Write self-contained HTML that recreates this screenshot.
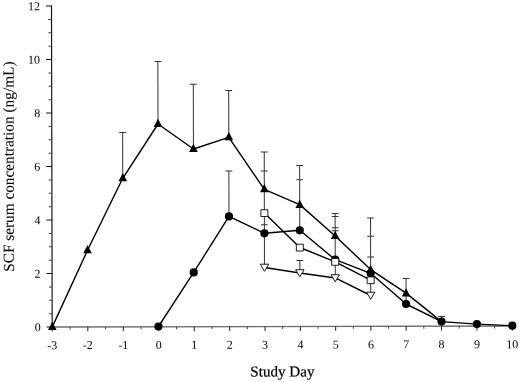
<!DOCTYPE html>
<html><head><meta charset="utf-8"><title>SCF serum concentration</title>
<style>html,body{margin:0;padding:0;background:#fff;}svg{display:block;}text{font-family:"Liberation Serif","DejaVu Serif",serif;fill:#000;}.t{stroke:#000;stroke-width:0.22px;}.t2{stroke:#000;stroke-width:0.08px;}</style></head><body>
<svg width="520" height="382" viewBox="0 0 520 382">
<rect width="520" height="382" fill="#fff"/>
<g transform="rotate(-0.1261 52.2 327.05)">
<g stroke="#111" fill="none">
<line x1="52.2" y1="5.55" x2="52.2" y2="327.65000000000003" stroke-width="1.15"/>
<line x1="52.2" y1="327.05" x2="512.80" y2="327.05" stroke-width="1.35" stroke="#6c6c6c"/>
<line x1="46.60" y1="327.05" x2="52.2" y2="327.05" stroke-width="1"/>
<line x1="49.00" y1="313.68" x2="52.2" y2="313.68" stroke-width="1" stroke="#444"/>
<line x1="49.00" y1="300.30" x2="52.2" y2="300.30" stroke-width="1" stroke="#444"/>
<line x1="49.00" y1="286.93" x2="52.2" y2="286.93" stroke-width="1" stroke="#444"/>
<line x1="46.60" y1="273.55" x2="52.2" y2="273.55" stroke-width="1"/>
<line x1="49.00" y1="260.18" x2="52.2" y2="260.18" stroke-width="1" stroke="#444"/>
<line x1="49.00" y1="246.80" x2="52.2" y2="246.80" stroke-width="1" stroke="#444"/>
<line x1="49.00" y1="233.43" x2="52.2" y2="233.43" stroke-width="1" stroke="#444"/>
<line x1="46.60" y1="220.05" x2="52.2" y2="220.05" stroke-width="1"/>
<line x1="49.00" y1="206.68" x2="52.2" y2="206.68" stroke-width="1" stroke="#444"/>
<line x1="49.00" y1="193.30" x2="52.2" y2="193.30" stroke-width="1" stroke="#444"/>
<line x1="49.00" y1="179.93" x2="52.2" y2="179.93" stroke-width="1" stroke="#444"/>
<line x1="46.60" y1="166.55" x2="52.2" y2="166.55" stroke-width="1"/>
<line x1="49.00" y1="153.18" x2="52.2" y2="153.18" stroke-width="1" stroke="#444"/>
<line x1="49.00" y1="139.80" x2="52.2" y2="139.80" stroke-width="1" stroke="#444"/>
<line x1="49.00" y1="126.43" x2="52.2" y2="126.43" stroke-width="1" stroke="#444"/>
<line x1="46.60" y1="113.05" x2="52.2" y2="113.05" stroke-width="1"/>
<line x1="49.00" y1="99.68" x2="52.2" y2="99.68" stroke-width="1" stroke="#444"/>
<line x1="49.00" y1="86.30" x2="52.2" y2="86.30" stroke-width="1" stroke="#444"/>
<line x1="49.00" y1="72.93" x2="52.2" y2="72.93" stroke-width="1" stroke="#444"/>
<line x1="46.60" y1="59.55" x2="52.2" y2="59.55" stroke-width="1"/>
<line x1="49.00" y1="46.18" x2="52.2" y2="46.18" stroke-width="1" stroke="#444"/>
<line x1="49.00" y1="32.80" x2="52.2" y2="32.80" stroke-width="1" stroke="#444"/>
<line x1="49.00" y1="19.43" x2="52.2" y2="19.43" stroke-width="1" stroke="#444"/>
<line x1="46.60" y1="6.05" x2="52.2" y2="6.05" stroke-width="1"/>
<line x1="52.30" y1="327.05" x2="52.30" y2="331.45" stroke-width="1" stroke="#222"/>
<line x1="70.06" y1="327.05" x2="70.06" y2="329.45" stroke-width="1" stroke="#444"/>
<line x1="87.82" y1="327.05" x2="87.82" y2="331.45" stroke-width="1" stroke="#222"/>
<line x1="105.58" y1="327.05" x2="105.58" y2="329.45" stroke-width="1" stroke="#444"/>
<line x1="123.33" y1="327.05" x2="123.33" y2="331.45" stroke-width="1" stroke="#222"/>
<line x1="141.08" y1="327.05" x2="141.08" y2="329.45" stroke-width="1" stroke="#444"/>
<line x1="158.82" y1="327.05" x2="158.82" y2="331.45" stroke-width="1" stroke="#222"/>
<line x1="176.55" y1="327.05" x2="176.55" y2="329.45" stroke-width="1" stroke="#444"/>
<line x1="194.27" y1="327.05" x2="194.27" y2="331.45" stroke-width="1" stroke="#222"/>
<line x1="211.98" y1="327.05" x2="211.98" y2="329.45" stroke-width="1" stroke="#444"/>
<line x1="229.67" y1="327.05" x2="229.67" y2="331.45" stroke-width="1" stroke="#222"/>
<line x1="247.36" y1="327.05" x2="247.36" y2="329.45" stroke-width="1" stroke="#444"/>
<line x1="265.04" y1="327.05" x2="265.04" y2="331.45" stroke-width="1" stroke="#222"/>
<line x1="282.70" y1="327.05" x2="282.70" y2="329.45" stroke-width="1" stroke="#444"/>
<line x1="300.36" y1="327.05" x2="300.36" y2="331.45" stroke-width="1" stroke="#222"/>
<line x1="318.01" y1="327.05" x2="318.01" y2="329.45" stroke-width="1" stroke="#444"/>
<line x1="335.64" y1="327.05" x2="335.64" y2="331.45" stroke-width="1" stroke="#222"/>
<line x1="353.28" y1="327.05" x2="353.28" y2="329.45" stroke-width="1" stroke="#444"/>
<line x1="370.90" y1="327.05" x2="370.90" y2="331.45" stroke-width="1" stroke="#222"/>
<line x1="388.53" y1="327.05" x2="388.53" y2="329.45" stroke-width="1" stroke="#444"/>
<line x1="406.15" y1="327.05" x2="406.15" y2="331.45" stroke-width="1" stroke="#222"/>
<line x1="423.84" y1="327.05" x2="423.84" y2="329.45" stroke-width="1" stroke="#444"/>
<line x1="441.53" y1="327.05" x2="441.53" y2="331.45" stroke-width="1" stroke="#222"/>
<line x1="459.23" y1="327.05" x2="459.23" y2="329.45" stroke-width="1" stroke="#444"/>
<line x1="476.92" y1="327.05" x2="476.92" y2="331.45" stroke-width="1" stroke="#222"/>
<line x1="494.61" y1="327.05" x2="494.61" y2="329.45" stroke-width="1" stroke="#444"/>
<line x1="512.30" y1="327.05" x2="512.30" y2="331.45" stroke-width="1" stroke="#222"/>
</g>
<g font-size="12px">
<text x="40.7" y="331.25" text-anchor="end">0</text>
<text x="40.7" y="277.75" text-anchor="end">2</text>
<text x="40.7" y="224.25" text-anchor="end">4</text>
<text x="40.7" y="170.75" text-anchor="end">6</text>
<text x="40.7" y="117.25" text-anchor="end">8</text>
<text x="40.7" y="63.75" text-anchor="end">10</text>
<text x="40.7" y="10.25" text-anchor="end">12</text>
<text x="52.30" y="349.15" text-anchor="middle">-3</text>
<text x="87.82" y="349.15" text-anchor="middle">-2</text>
<text x="123.33" y="349.15" text-anchor="middle">-1</text>
<text x="158.82" y="349.15" text-anchor="middle">0</text>
<text x="194.27" y="349.15" text-anchor="middle">1</text>
<text x="229.67" y="349.15" text-anchor="middle">2</text>
<text x="265.04" y="349.15" text-anchor="middle">3</text>
<text x="300.36" y="349.15" text-anchor="middle">4</text>
<text x="335.64" y="349.15" text-anchor="middle">5</text>
<text x="370.90" y="349.15" text-anchor="middle">6</text>
<text x="406.15" y="349.15" text-anchor="middle">7</text>
<text x="441.53" y="349.15" text-anchor="middle">8</text>
<text x="476.92" y="349.15" text-anchor="middle">9</text>
<text x="512.30" y="349.15" text-anchor="middle">10</text>
</g>
<text class="t" x="282.3" y="377.0" font-size="15.1px" text-anchor="middle">Study Day</text>
<text class="t2" transform="translate(14,166.6) rotate(-90)" font-size="15.3px" text-anchor="middle">SCF serum concentration (ng/mL)</text>
<g stroke="#333" stroke-width="1" fill="none">
<line x1="123.07" y1="132.56" x2="123.07" y2="177.66"/>
<line x1="158.45" y1="61.73" x2="158.45" y2="123.23"/>
<line x1="193.84" y1="84.51" x2="193.84" y2="148.31"/>
<line x1="229.22" y1="90.79" x2="229.22" y2="136.89"/>
<line x1="229.22" y1="171.49" x2="229.22" y2="216.79"/>
<line x1="264.61" y1="152.57" x2="264.61" y2="267.97"/>
<line x1="300.00" y1="166.15" x2="300.00" y2="230.85"/>
<line x1="300.00" y1="261.05" x2="300.00" y2="273.55"/>
<line x1="335.38" y1="214.02" x2="335.38" y2="278.62"/>
<line x1="370.76" y1="218.8" x2="370.76" y2="296.2"/>
<line x1="406.15" y1="279.28" x2="406.15" y2="304.28"/>
<line x1="441.53" y1="317.36" x2="441.53" y2="322.46"/>
<line x1="119.67" y1="132.56" x2="126.47" y2="132.56"/>
<line x1="155.05" y1="61.73" x2="161.85" y2="61.73"/>
<line x1="190.44" y1="84.51" x2="197.24" y2="84.51"/>
<line x1="225.82" y1="90.79" x2="232.62" y2="90.79"/>
<line x1="225.82" y1="171.49" x2="232.62" y2="171.49"/>
<line x1="261.21" y1="152.57" x2="268.01" y2="152.57"/>
<line x1="261.21" y1="171.57" x2="268.01" y2="171.57"/>
<line x1="261.21" y1="225.27" x2="268.01" y2="225.27"/>
<line x1="296.60" y1="166.15" x2="303.39" y2="166.15"/>
<line x1="296.60" y1="180.35" x2="303.39" y2="180.35"/>
<line x1="296.60" y1="261.05" x2="303.39" y2="261.05"/>
<line x1="331.98" y1="214.02" x2="338.78" y2="214.02"/>
<line x1="331.98" y1="217.22" x2="338.78" y2="217.22"/>
<line x1="331.98" y1="228.42" x2="338.78" y2="228.42"/>
<line x1="331.98" y1="231.42" x2="338.78" y2="231.42"/>
<line x1="367.37" y1="218.8" x2="374.16" y2="218.8"/>
<line x1="367.37" y1="236.9" x2="374.16" y2="236.9"/>
<line x1="367.37" y1="257.7" x2="374.16" y2="257.7"/>
<line x1="402.75" y1="279.28" x2="409.55" y2="279.28"/>
<line x1="438.13" y1="317.36" x2="444.93" y2="317.36"/>
</g>
<g stroke="#000" stroke-width="1.4" fill="none" stroke-linejoin="round">
<polyline points="52.30,326.9 87.69,250.38 123.07,178.46 158.45,124.23 193.84,149.31 229.22,137.69 264.61,189.87 300.00,205.15 335.38,236.62 370.76,270.3 406.15,293.88 441.53,322.46"/>
<polyline points="158.45,326.73 193.84,272.71 229.22,216.79 264.61,233.77 300.00,230.85 335.38,260.32 370.76,274.0 406.15,304.78 441.53,322.46 476.92,325.03 512.30,326.71"/>
<polyline points="264.61,213.52 300.00,248.05 335.38,262.42 370.76,280.9"/>
<polyline points="264.61,267.97 300.00,273.55 335.38,278.62 370.76,296.2"/>
</g>
<g fill="#000" stroke="none">
<polygon points="52.30,321.80 56.60,330.00 48.00,330.00"/>
<polygon points="87.69,245.08 91.98,253.28 83.39,253.28"/>
<polygon points="123.07,173.16 127.37,181.36 118.77,181.36"/>
<polygon points="158.45,118.93 162.75,127.13 154.15,127.13"/>
<polygon points="193.84,144.01 198.14,152.21 189.54,152.21"/>
<polygon points="229.22,132.39 233.52,140.59 224.92,140.59"/>
<polygon points="264.61,184.57 268.91,192.77 260.31,192.77"/>
<polygon points="300.00,200.25 304.30,208.45 295.69,208.45"/>
<polygon points="335.38,231.32 339.68,239.52 331.08,239.52"/>
<polygon points="370.76,265.60 375.06,273.80 366.46,273.80"/>
<polygon points="406.15,288.98 410.45,297.18 401.85,297.18"/>
<circle cx="158.45" cy="326.73" r="4.1"/>
<circle cx="193.84" cy="272.71" r="4.1"/>
<circle cx="229.22" cy="216.79" r="4.1"/>
<circle cx="264.61" cy="233.77" r="4.1"/>
<circle cx="300.00" cy="230.85" r="4.1"/>
<circle cx="335.38" cy="260.32" r="4.1"/>
<circle cx="370.76" cy="274.0" r="4.1"/>
<circle cx="406.15" cy="304.78" r="4.1"/>
<circle cx="441.53" cy="322.46" r="4.1"/>
<circle cx="476.92" cy="325.03" r="4.1"/>
<circle cx="512.30" cy="326.71" r="4.1"/>
</g>
<g fill="#fff" stroke="#111" stroke-width="0.95">
<rect x="261.11" y="210.22" width="7" height="6.8"/>
<rect x="296.50" y="244.75" width="7" height="6.8"/>
<rect x="331.88" y="259.12" width="7" height="6.8"/>
<rect x="367.26" y="277.60" width="7" height="6.8"/>
<polygon points="260.41,264.67 268.81,264.67 264.61,271.77"/>
<polygon points="295.80,270.25 304.19,270.25 300.00,277.35"/>
<polygon points="331.18,275.32 339.58,275.32 335.38,282.42"/>
<polygon points="366.56,292.90 374.96,292.90 370.76,300.00"/>
</g>
</g>
</svg></body></html>
